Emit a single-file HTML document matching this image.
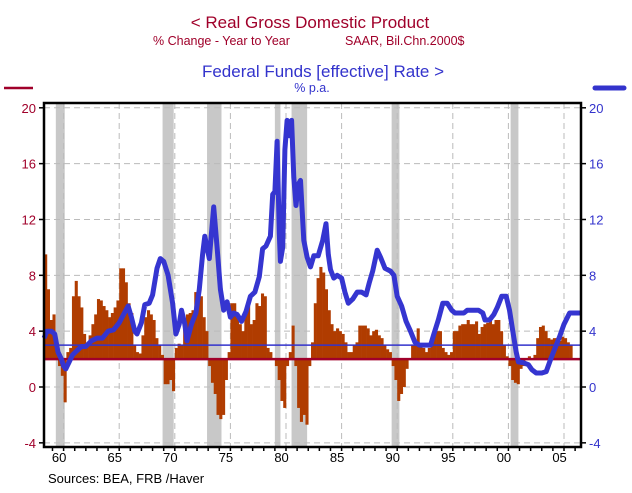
<!DOCTYPE html>
<html><head><meta charset="utf-8"><style>
body{margin:0;background:#fff;width:632px;height:488px;overflow:hidden;font-family:"Liberation Sans",Arial,sans-serif}
svg text{font-family:"Liberation Sans",Arial,sans-serif}
</style></head><body>
<svg id="c" width="632" height="488">
<text x="310" y="28" text-anchor="middle" font-size="17" fill="#a0002a">&lt;  Real Gross Domestic Product</text>
<text x="153" y="45" font-size="12.5" fill="#a0002a">% Change - Year to Year</text>
<text x="345" y="45" font-size="12.5" fill="#a0002a">SAAR, Bil.Chn.2000$</text>
<text x="323" y="77" text-anchor="middle" font-size="17" fill="#3333cc">Federal Funds [effective] Rate  &gt;</text>
<text x="312" y="92" text-anchor="middle" font-size="12.5" fill="#3333cc">% p.a.</text>
<line x1="4" y1="88" x2="33" y2="88" stroke="#a0002a" stroke-width="2.5"/>
<line x1="595" y1="88" x2="624" y2="88" stroke="#3333cc" stroke-width="5" stroke-linecap="round"/>
<text x="48" y="483" font-size="13" fill="#000">Sources:  BEA, FRB /Haver</text>
<g id="plot"></g>
</svg>
<script>
const gdpStart = 1959.25;
const gdpValues = [9.5,7,4.8,5.2,2.5,1.5,0.8,-1.1,2.5,2.8,6.5,7.6,6.5,5.7,3.8,3.0,3.7,4.5,5.2,6.3,6.2,5.8,5.5,5.0,5.3,5.7,6.2,8.5,8.5,7.5,6.0,5.3,3.0,2.5,2.4,3.7,5.0,5.5,5.2,4.8,3.5,3.0,2.3,0.2,0.2,0.5,-0.3,2.8,3.1,3.0,4.3,5.2,5.3,5.5,6.8,7.0,6.5,5.0,4.0,1.5,0.3,-0.5,-2.0,-2.3,-2.0,0.5,2.5,6.0,6.0,5.0,4.5,4.0,5.2,5.8,4.5,4.8,6.0,5.8,6.7,6.5,2.8,2.5,2.0,1.5,0.5,-1.0,-1.5,1.5,2.5,4.4,1.5,-1.5,-2.5,-2.0,-2.7,1.5,3.2,6.0,7.8,8.6,8.2,7.0,5.5,4.5,4.0,4.2,4.0,3.8,3.2,2.5,2.5,3.0,3.2,4.4,4.4,4.4,4.2,3.7,4.0,4.1,3.7,3.5,3.0,2.7,2.5,1.5,0.5,-1.0,-0.5,0.0,1.3,2.0,3.0,3.0,4.2,3.0,2.8,2.5,2.8,3.5,4.2,4.0,4.0,2.8,2.5,2.3,2.5,4.0,4.0,4.4,4.5,4.5,4.8,4.5,4.5,4.7,3.8,4.3,4.5,4.6,4.8,4.5,4.8,4.8,4.0,3.0,2.2,1.5,0.5,0.3,0.2,1.3,1.5,2.0,2.2,2.0,2.3,3.5,4.3,4.4,4.0,3.5,3.4,3.5,3.5,3.3,3.6,3.5,3.2,3.0,2.0,2.0];
const ffDates = [1959.25,1959.5,1959.9,1960.2,1960.5,1960.8,1961.0,1961.2,1961.5,1961.8,1962.2,1962.6,1963.0,1963.5,1964,1964.5,1965,1965.5,1966,1966.4,1966.8,1967.1,1967.4,1967.6,1968.0,1968.3,1968.7,1969.0,1969.4,1969.7,1970.0,1970.4,1970.8,1971.1,1971.4,1971.6,1971.9,1972.1,1972.5,1972.9,1973.2,1973.5,1973.7,1973.9,1974.1,1974.5,1974.8,1975.1,1975.4,1975.7,1976,1976.3,1976.6,1977.0,1977.4,1977.8,1978.2,1978.6,1978.9,1979.2,1979.6,1979.8,1980.0,1980.2,1980.4,1980.5,1980.7,1980.9,1981.1,1981.3,1981.5,1981.7,1981.9,1982.1,1982.3,1982.6,1982.9,1983.2,1983.5,1983.9,1984.0,1984.3,1984.6,1984.8,1985.0,1985.3,1985.6,1986.0,1986.3,1986.6,1987,1987.4,1987.8,1988.2,1988.5,1988.8,1989.2,1989.5,1989.9,1990.4,1990.7,1991.0,1991.4,1991.8,1992.2,1992.6,1993.0,1993.5,1994.0,1994.3,1994.7,1995.1,1995.5,1995.9,1996.2,1996.6,1997.0,1997.3,1997.8,1998.3,1998.7,1998.9,1999.3,1999.7,2000.0,2000.4,2000.8,2001.1,2001.4,2001.7,2001.9,2002.3,2002.8,2003.1,2003.5,2004.0,2004.4,2004.8,2005.2,2005.6,2006.0,2006.5,2007.5];
const ffValues = [3.5,4.0,4.0,3.8,2.5,2.0,1.5,1.3,1.8,2.3,2.6,2.9,2.9,3.3,3.5,3.5,4.0,4.1,4.6,5.2,5.8,5.0,4.0,3.8,4.6,5.9,6.0,6.6,8.5,9.2,9.0,8.0,6.0,3.8,4.5,5.5,4.5,3.3,4.5,5.3,7.0,9.5,10.8,10.0,9.2,12.9,10.0,7.0,5.5,6.1,5.0,5.3,5.2,4.7,5.4,6.5,6.8,7.9,9.9,10.1,10.8,13.8,14.0,17.6,11.0,9.0,10.0,17.0,19.1,18.0,19.1,15.0,13.0,14.5,14.8,10.5,9.3,8.6,9.4,9.4,9.7,10.5,11.7,9.5,8.4,7.8,8.0,7.8,6.8,6.0,6.3,6.8,6.8,6.6,7.5,8.3,9.8,9.3,8.5,8.3,8.0,6.5,5.8,4.7,4.0,3.2,3.0,3.0,3.0,3.8,4.8,6.0,6.0,5.5,5.3,5.3,5.3,5.5,5.5,5.5,5.3,4.8,4.8,5.2,5.7,6.5,6.5,5.5,4.0,2.5,1.8,1.75,1.6,1.25,1.0,1.0,1.1,2.0,2.8,3.6,4.5,5.3,5.3];
const recessions = [[1960.3,1961.1],[1969.9,1970.9],[1973.9,1975.2],[1980.0,1980.5],[1981.5,1982.9],[1990.5,1991.2],[2001.2,2001.9]];
const yTicks = [-4,0,4,8,12,16,20];
const xLabels = ["60","65","70","75","80","85","90","95","00","05"];
const xLabelYears = [1960,1965,1970,1975,1980,1985,1990,1995,2000,2005];
const gdpRef = 2, ffRef = 3;

const NS="http://www.w3.org/2000/svg";
const L=44,R=581,T=103,B=447;
const xs=t=>63.6+(t-1961)*11.12;
const ys=v=>387-v*13.96;
const g=document.getElementById('plot');
function mk(tag,attrs){const e=document.createElementNS(NS,tag);for(const k in attrs)e.setAttribute(k,attrs[k]);g.appendChild(e);return e;}

recessions.forEach(r=>{const e=mk('rect',{x:xs(r[0]),y:T,width:xs(r[1])-xs(r[0]),height:B-T,fill:'#c8c8c8'});

});
yTicks.forEach(v=>{const e=mk('line',{x1:L,x2:R,y1:ys(v),y2:ys(v),stroke:'#bbb','stroke-dasharray':'6,4','stroke-width':1});

});
xLabelYears.forEach(yr=>{const e=mk('line',{x1:xs(yr+1),x2:xs(yr+1),y1:T,y2:B,stroke:'#bbb','stroke-dasharray':'6,4','stroke-width':1});

});
gdpValues.forEach((v,i)=>{const t=gdpStart+i*0.25;const x0=Math.max(L,xs(t)),x1=Math.min(R,xs(t+0.25));
const y0=ys(Math.max(v,gdpRef)),y1=ys(Math.min(v,gdpRef));
const e=mk('rect',{x:x0,y:y0,width:x1-x0+0.3,height:Math.max(0.5,y1-y0),fill:'#b03c00'});

});
let e1=mk('line',{x1:L,x2:R,y1:ys(gdpRef),y2:ys(gdpRef),stroke:'#a0002a','stroke-width':2.5});


let e2=mk('line',{x1:L,x2:R,y1:ys(ffRef),y2:ys(ffRef),stroke:'#3333cc','stroke-width':1.5});


let d='';ffValues.forEach((v,i)=>{d+=(i?'L':'M')+Math.min(R,xs(ffDates[i])).toFixed(1)+','+ys(v).toFixed(1);});
let p=mk('path',{d:d,fill:'none',stroke:'#3535d0','stroke-width':5,'stroke-linejoin':'round'});


let fr=mk('rect',{x:L,y:T,width:R-L,height:B-T,fill:'none',stroke:'#000','stroke-width':2.5});


yTicks.forEach(v=>{
 let a=mk('line',{x1:L-5,x2:L,y1:ys(v),y2:ys(v),stroke:'#000','stroke-width':1.5});
 
 
 let b=mk('line',{x1:R,x2:R+5,y1:ys(v),y2:ys(v),stroke:'#000','stroke-width':1.5});
 
 
 let t1=mk('text',{x:L-8,y:ys(v)+5,'text-anchor':'end','font-size':13,fill:'#a0002a'});t1.textContent=v;
 
 
 let t2=mk('text',{x:R+8,y:ys(v)+5,'font-size':13,fill:'#3333cc'});t2.textContent=v;
 
 
});
for(let yr=1960;yr<=2007;yr++){const x=xs(yr);if(x<L||x>R)continue;
 let tk=mk('line',{x1:x,x2:x,y1:B,y2:B+4,stroke:'#000','stroke-width':1.5});
 
 }
xLabels.forEach((s,i)=>{let t=mk('text',{x:xs(xLabelYears[i]+0.6),y:B+15,'text-anchor':'middle','font-size':13,fill:'#000'});t.textContent=s;
 
 });
</script>
</body></html>
